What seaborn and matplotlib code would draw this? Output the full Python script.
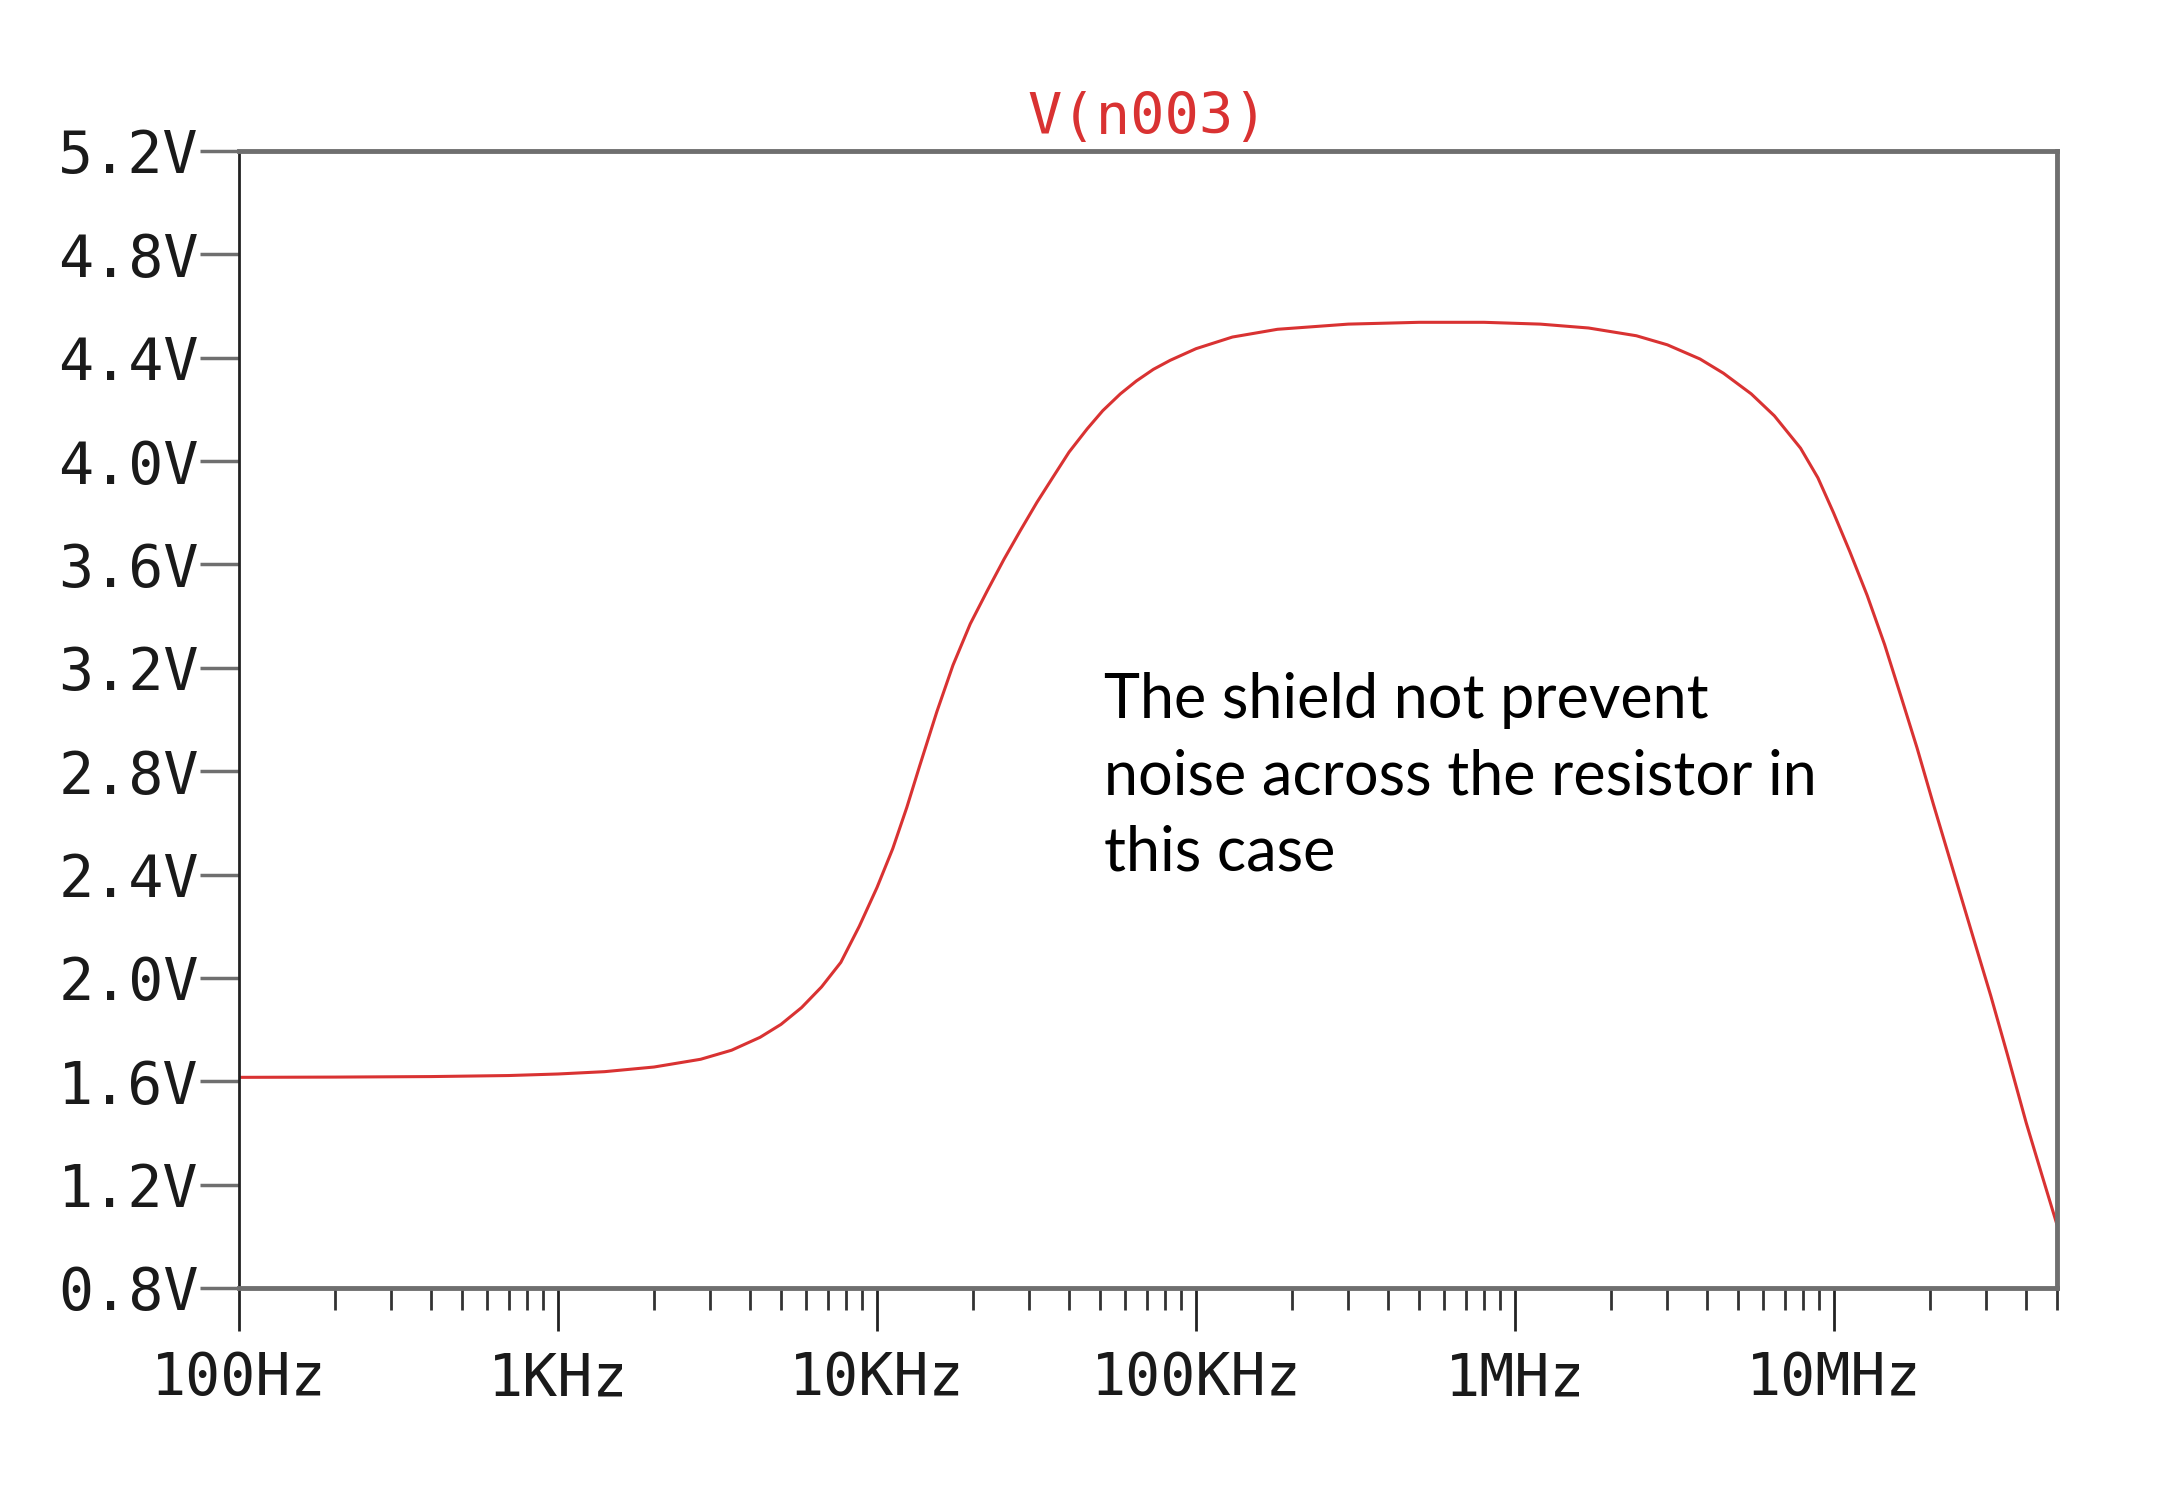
import matplotlib
matplotlib.use("Agg")
import matplotlib.pyplot as plt
import matplotlib.ticker as mticker
import numpy as np
import pandas as pd
import seaborn as sns

freq_hz = [
    100, 200, 400, 700, 1e3, 1.4e3, 2e3, 2.8e3, 3.5e3, 4.3e3, 5e3, 5.8e3,
    6.7e3, 7.7e3, 8.8e3, 10e3, 11.2e3, 12.4e3, 13.6e3, 15.4e3, 17.3e3, 19.6e3,
    22.2e3, 25e3, 28.1e3, 31.7e3, 35.7e3, 40e3, 45.6e3, 51e3, 57.9e3, 65e3,
    73.5e3, 83e3, 100e3, 130e3, 180e3, 300e3, 500e3, 800e3, 1.2e6, 1.7e6,
    2.4e6, 3.0e6, 3.8e6, 4.5e6, 5.5e6, 6.5e6, 7.85e6, 8.9e6, 9.96e6, 11.2e6,
    12.7e6, 14.4e6, 16.2e6, 18.2e6, 20.5e6, 23.7e6, 27.4e6, 31e6, 35e6, 40e6,
    45e6, 50e6,
]
volts = [
    1.615, 1.616, 1.618, 1.622, 1.628, 1.637, 1.655, 1.685, 1.720, 1.770, 1.820, 1.885,
    1.965, 2.06, 2.20, 2.35, 2.50, 2.66, 2.82, 3.03, 3.21, 3.37,
    3.50, 3.62, 3.73, 3.84, 3.94, 4.035, 4.125, 4.195, 4.26, 4.31,
    4.355, 4.39, 4.435, 4.48, 4.51, 4.530, 4.537, 4.537, 4.530, 4.515,
    4.485, 4.45, 4.395, 4.34, 4.26, 4.175, 4.05, 3.935, 3.80, 3.65,
    3.48, 3.29, 3.09, 2.89, 2.67, 2.41, 2.15, 1.93, 1.70, 1.44,
    1.23, 1.044,
]

x_ticks = [1e2, 1e3, 1e4, 1e5, 1e6, 1e7]
x_labels = ["100Hz", "1KHz", "10KHz", "100KHz", "1MHz", "10MHz"]
y_ticks = [0.8, 1.2, 1.6, 2.0, 2.4, 2.8, 3.2, 3.6, 4.0, 4.4, 4.8, 5.2]
y_labels = [f"{v:.1f}V" for v in y_ticks]

title = "V(n003)"
note = "The shield not prevent\nnoise across the resistor in\nthis case"

RED = "#d93232"
FRAME = "#6f6f6f"
MONO = ["DejaVu Sans Mono"]

sns.set_theme(style="white")
plt.rcParams["font.family"] = ["DejaVu Sans"]

df = pd.DataFrame({"freq": freq_hz, "v": volts})

fig = plt.figure(figsize=(21.61, 14.95), dpi=100)
ax = fig.add_axes([0.1106, 0.1385, 0.8413, 0.7605])

sns.lineplot(data=df, x="freq", y="v", ax=ax, color=RED, lw=2.2, estimator=None, sort=False)

ax.set_xscale("log")
ax.set_xlim(1e2, 5e7)
ax.set_ylim(0.8, 5.2)
ax.set_xlabel("")
ax.set_ylabel("")

ax.set_xticks(x_ticks, labels=x_labels)
ax.xaxis.set_minor_locator(mticker.LogLocator(base=10, subs=np.arange(2, 10), numticks=20))
ax.xaxis.set_minor_formatter(mticker.NullFormatter())
ax.set_yticks(y_ticks, labels=y_labels)

ax.tick_params(axis="x", which="major", direction="out", length=31, width=2,
               color="#222222", pad=14, labelsize=42, labelcolor="#1a1a1a", bottom=True)
ax.tick_params(axis="x", which="minor", direction="out", length=16, width=2,
               color="#333333", bottom=True)
ax.tick_params(axis="y", which="major", direction="out", length=28, width=2.5,
               color=FRAME, pad=1, labelsize=42, labelcolor="#1a1a1a", left=True)
for lab in ax.get_xticklabels() + ax.get_yticklabels():
    lab.set_family(MONO)

for side in ["top", "right", "bottom"]:
    ax.spines[side].set_color(FRAME)
    ax.spines[side].set_linewidth(3.5)
ax.spines["left"].set_color("#222222")
ax.spines["left"].set_linewidth(2)

ax.set_title(title, color=RED, fontsize=41, family=MONO, pad=12)

ax.text(0.476, 0.542, note, transform=ax.transAxes, fontsize=44,
        family=["Lato", "DejaVu Sans"], va="top", ha="left", linespacing=1.42,
        color="black")

fig.savefig("out.png", dpi=100)
